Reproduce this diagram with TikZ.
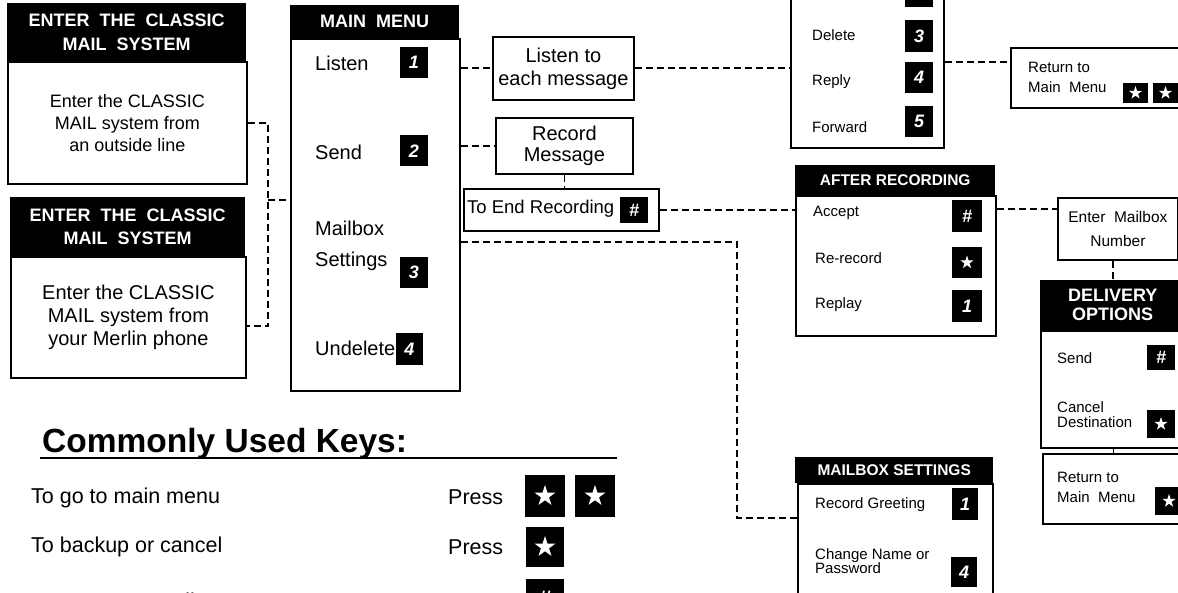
\documentclass[tikz,border=0pt]{standalone}
\usepackage{fontspec}
\setmainfont{Liberation Sans}
\usetikzlibrary{shapes.geometric}
\newcommand\fsz[2]{\fontsize{#1}{#2}\selectfont}
\begin{document}
\begin{tikzpicture}[x=1pt, y=-1pt,
  hdr/.style = {fill=black, text=white, align=center, inner sep=0pt, anchor=north west},
  box/.style = {draw, line width=1.8pt, fill=white, inner sep=0pt, anchor=north west, align=center},
  item/.style = {anchor=west, align=left, inner sep=0pt, font=\fsz{15}{15}},
  mitem/.style = {item, font=\fsz{20}{31}},
  krow/.style = {item, font=\fsz{21.5}{24}},
  key/.style = {fill=black, text=white, font=\bfseries\itshape\fsz{18}{18}, inner sep=0pt, minimum width=28, minimum height=31},
  keystar/.style = {key, path picture={\node[star, star points=5, star point ratio=2.6, fill=white, inner sep=0pt, minimum size=#1] at (path picture bounding box.center) {};}},
  keystar/.default = 14,
  link/.style = {line width=1.8pt, dash pattern=on 7pt off 4pt}]
\useasboundingbox (0,0) rectangle (1178,593);
\clip (0,0) rectangle (1178,593);

\node[hdr, minimum width=239, minimum height=58, font=\bfseries\fsz{18}{24}] (h1) at (7,3) {ENTER\ \ THE\ \ CLASSIC\\MAIL\ \ SYSTEM};
\node[box, minimum width=239, minimum height=122, font=\fsz{18}{22}] (b1) at (7,61) {Enter the CLASSIC\\MAIL system from\\an outside line};
\node[hdr, minimum width=235, minimum height=59, font=\bfseries\fsz{18}{23}] (h2) at (10,197) {ENTER\ \ THE\ \ CLASSIC\\MAIL\ \ SYSTEM};
\node[box, minimum width=235, minimum height=121, font=\fsz{20}{23}] (b2) at (10,256) {Enter the CLASSIC\\MAIL system from\\your Merlin phone};

\node[hdr, minimum width=169, minimum height=33, font=\bfseries\fsz{18}{22}] (h3) at (290,5) {MAIN\ \ MENU};
\node[box, minimum width=169, minimum height=352] (mm) at (290,38) {};
\node[mitem] (m1) at (315,63) {Listen};
\node[key] (k1) at (414,62.5) {1};
\node[mitem] (m2) at (315,152) {Send};
\node[key] (k2) at (414,151) {2};
\node[mitem] (m3) at (315,246) {Mailbox\\Settings};
\node[key] (k3) at (414,272.5) {3};
\node[mitem] (m4) at (315,348) {Undelete};
\node[key, minimum width=27, minimum height=32] (k4) at (409.5,349) {4};

\node[box, minimum width=141, minimum height=63, font=\fsz{20}{23}] (lis) at (492,36) {Listen to\\each message};
\node[box, minimum width=137, minimum height=56, font=\fsz{20}{21}] (rec) at (495,117) {Record\\Message};
\node[box, minimum width=195, minimum height=42] (end) at (463,188) {};
\node[item, font=\fsz{18.5}{20}] (te) at (467,209) {To End Recording};
\node[key, minimum height=26] (ke) at (634,210) {\#};

\node[box, minimum width=153, minimum height=190] (lm) at (790,-43) {};
\node[key] (l0) at (919,-8) {};
\node[item] (l3) at (812,35) {Delete};
\node[key, minimum height=32] (kl3) at (919,36) {3};
\node[item] (l4) at (812,82) {Reply};
\node[key] (kl4) at (919,77.5) {4};
\node[item] (l5) at (812,127) {Forward};
\node[key] (kl5) at (919,121.5) {5};

\node[box, minimum width=180, minimum height=60] (r1) at (1010,47) {};
\node[item, font=\fsz{15}{20}] (r1t) at (1028,77) {Return to\\Main\ \ Menu};
\node[keystar, minimum width=25, minimum height=20] (r1a) at (1135.5,93) {};
\node[keystar, minimum width=25, minimum height=20] (r1b) at (1165.5,93) {};

\node[hdr, minimum width=200, minimum height=30, font=\bfseries\fsz{15.5}{18}] (h4) at (795,165) {AFTER RECORDING};
\node[box, minimum width=200, minimum height=140] (ar) at (795,195) {};
\node[item] (a1) at (813,213) {Accept};
\node[key, minimum width=30, minimum height=32] (ka1) at (967,216) {\#};
\node[item] (a2) at (815,258) {Re-record};
\node[keystar, minimum width=30] (ka2) at (967,262.5) {};
\node[item] (a3) at (815,305) {Replay};
\node[key, minimum width=30, minimum height=32] (ka3) at (967,306) {1};

\node[box, minimum width=120, minimum height=62, font=\fsz{15.5}{24}] (emb) at (1057,197) {Enter\ \ Mailbox\\Number};
\node[hdr, minimum width=145, minimum height=50, font=\bfseries\fsz{18}{19}] (h5) at (1040,280) {DELIVERY\\OPTIONS};
\node[box, minimum width=145, minimum height=117] (dl) at (1040,330) {};
\node[item] (d1) at (1057,358) {Send};
\node[key, minimum height=25] (kd1) at (1161,357.5) {\#};
\node[item, font=\fsz{15}{15}] (d2) at (1057,415) {Cancel\\Destination};
\node[keystar, minimum height=28] (kd2) at (1161,424) {};
\node[box, minimum width=143, minimum height=70] (r2) at (1042,453) {};
\node[item, font=\fsz{15}{20}] (r2t) at (1057,487) {Return to\\Main\ \ Menu};
\node[keystar, minimum height=28] (r2a) at (1169,501) {};

\node[hdr, minimum width=198, minimum height=26, font=\bfseries\fsz{15.5}{18}] (h6) at (795,457) {MAILBOX SETTINGS};
\node[box, minimum width=195, minimum height=150] (ms) at (797,483) {};
\node[item] (s1) at (815,505) {Record Greeting};
\node[key, minimum width=26, minimum height=32] (ks1) at (965,504) {1};
\node[item, font=\fsz{15}{14}] (s2) at (815,561) {Change Name or\\Password};
\node[key, minimum width=26, minimum height=30] (ks2) at (964,572) {4};

\node[anchor=base west, inner sep=0pt, font=\bfseries\fsz{33.5}{36}] (cuk) at (42,452) {Commonly Used Keys:};
\draw[line width=2pt] (40,458) -- (617,458);
\node[krow] (t1) at (31,498) {To go to main menu};
\node[krow] (p1) at (448,497) {Press};
\node[keystar=22, minimum width=40, minimum height=42] (c1a) at (545,496) {};
\node[keystar=22, minimum width=40, minimum height=42] (c1b) at (595,496) {};
\node[krow] (t2) at (31,547) {To backup or cancel};
\node[krow] (p2) at (448,547) {Press};
\node[keystar=22, minimum width=38, minimum height=40] (c2a) at (545,547) {};
\node[krow] (t3) at (31,603) {To accept recording};
\node[krow] (p3) at (448,603) {Press};
\node[key, minimum width=38, minimum height=40, font=\bfseries\fsz{24}{24}] (c3a) at (545,599) {\#};

\coordinate (fork) at (268,200);
\coordinate (bend) at (737,242);
\draw[link] (b1.east) -| (fork) |- ([yshift=-9pt]b2.east);
\draw[link] (fork) -- (fork -| mm.west);
\draw[link] (mm.east |- lis.west) -- (lis.west);
\draw[link] (mm.east |- rec.west) -- (rec.west);
\draw[link] (rec.south) -- (rec.south |- end.north);
\draw[link] (lis.east) -- (lis.east -| lm.west);
\draw[link] (lm.east |- 0,62) -- (r1.west |- 0,62);
\draw[link] (end.east) -- (end.east -| ar.west);
\draw[link] (ar.east |- 0,209) -- (emb.west |- 0,209);
\draw[link] (emb.south -| h5.north) -- (h5.north);
\draw[link] (dl.south) -- (dl.south |- r2.north);
\draw[link] (mm.east |- bend) -- (bend) |- (ms.west |- 0,518);
\end{tikzpicture}
\end{document}
